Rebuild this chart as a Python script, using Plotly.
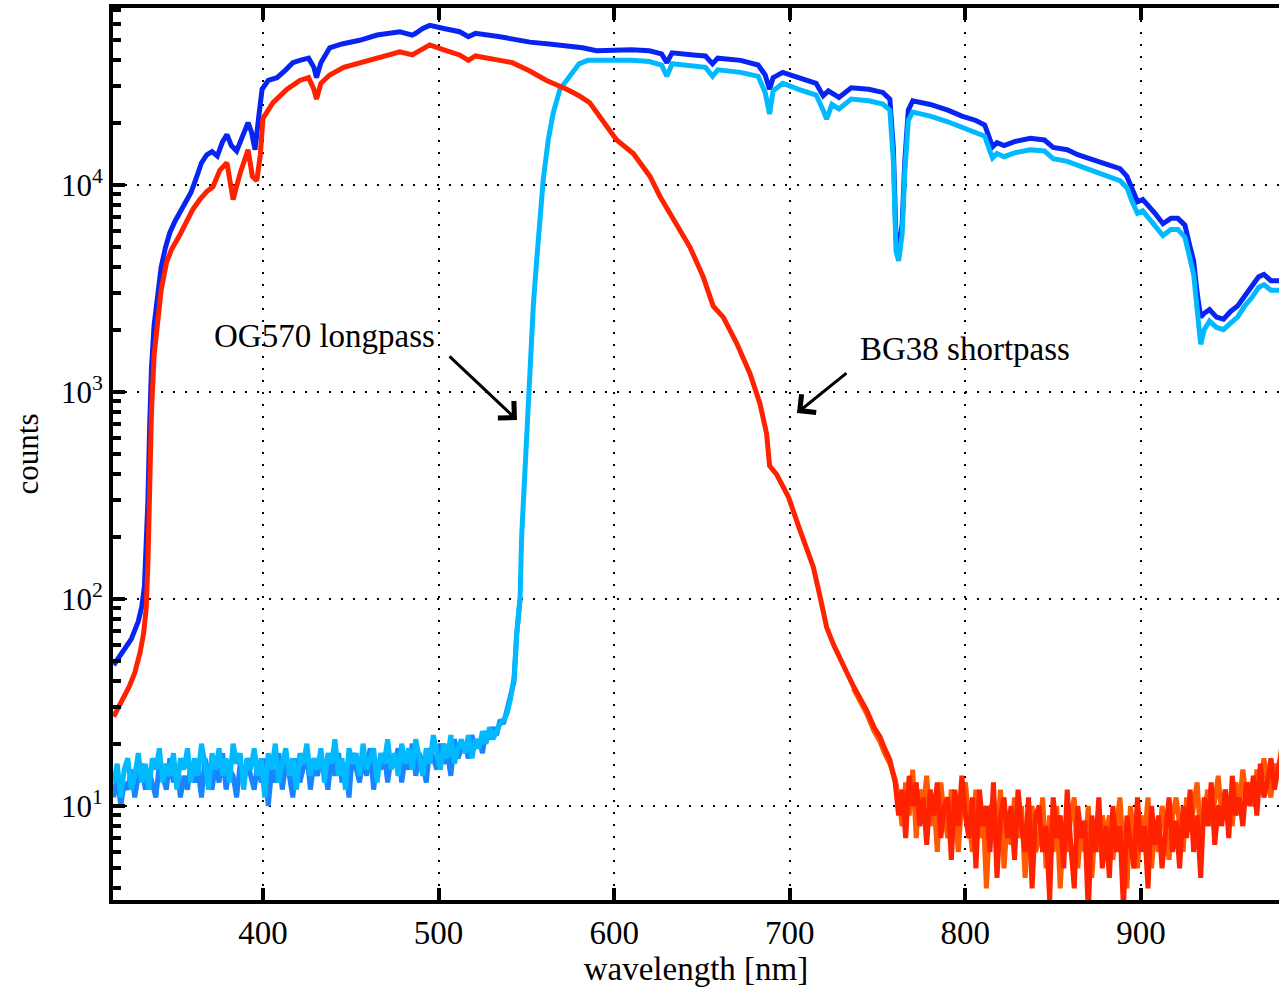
import plotly.graph_objects as go

# ---------------- data ----------------
# Unfiltered spectrum (dark blue)
BLUE_WL = [315, 320, 325, 329, 331, 332.5, 333.5, 334.5, 335.5, 336.5, 338, 340, 342, 344.5, 347, 350, 353, 356, 359,
           362, 365, 368, 371, 374, 377, 379.5, 382, 385, 388, 391.5, 393.5, 395.5, 397.5, 399.5, 403, 408, 413, 417,
           421, 426, 429, 430.5, 433, 438, 445, 455, 465, 478, 485, 487, 491, 495, 503, 512, 517, 521, 535, 545, 552,
           563, 575, 582, 590, 600, 610, 620, 627, 630, 633, 645, 652, 656, 659, 672, 682, 686, 688.5, 690.5, 696,
           705, 715, 719, 722, 728, 735, 745, 753, 757, 759, 760.5, 762, 764, 765.5, 767.5, 770, 780, 790, 798, 806,
           811, 813.5, 815.5, 818, 822, 828, 837, 845, 850, 858, 864, 872, 880, 888, 892, 895, 898, 901, 904, 908,
           912.5, 917, 921, 925, 928, 930, 932, 934, 936, 939, 943, 947, 951, 955, 959, 963, 967, 970, 974, 979]
BLUE_CT = [48, 55, 64, 78, 92, 115, 170, 300, 700, 1300, 2100, 3000, 4000, 5000, 5900, 6700, 7400, 8200, 9200,
           10800, 12800, 14000, 14500, 13800, 16200, 17500, 15500, 14600, 17000, 20000, 18000, 14800, 21000, 29000,
           32000, 33000, 36000, 39000, 40000, 41000, 37000, 33000, 39000, 46000, 48000, 50000, 53000, 55000, 53000,
           54000, 57000, 59000, 57000, 55000, 52000, 54000, 52000, 50000, 49000, 48000, 47000, 46000, 44500, 45000,
           45000, 44500, 43000, 39000, 43500, 42500, 42000, 38500, 41000, 40000, 38000, 34000, 29000, 33000, 35000,
           33000, 31000, 27000, 28500, 26500, 29500, 29000, 28000, 26000, 15000, 5500, 4800, 6500, 13000, 23000,
           25500, 24500, 23000, 21500, 20500, 19500, 17000, 15300, 16000, 15500, 16200, 16800, 16500, 15200, 14800,
           14000, 13300, 12600, 12000, 11000, 9500, 8300, 8500, 8000, 7300, 6500, 6900, 6900, 6400, 5000, 4300, 3000,
           2300, 2400, 2500, 2300, 2250, 2450, 2600, 2900, 3200, 3600, 3700, 3450, 3450]

# OG570 longpass: dark-current noise part (two exposures) on a 2 nm grid
OG_NOISE_WL = list(range(315, 545, 2))
OG_NOISE_A = [13, 16, 11, 15, 17, 12, 14, 18, 13, 16, 12, 17, 15, 19, 13, 16, 14, 18, 12, 17,
              15, 19, 13, 17, 14, 20, 16, 12, 18, 15, 19, 14, 17, 13, 20, 16, 18, 12, 17, 15,
              19, 14, 17, 11, 18, 15, 20, 13, 16, 19, 14, 17, 12, 18, 16, 20, 14, 17, 15, 19,
              13, 18, 16, 21, 14, 17, 12, 19, 16, 18, 14, 20, 15, 17, 19, 13, 18, 16, 21, 15,
              18, 14, 20, 16, 19, 15, 21, 17, 14, 19, 16, 22, 18, 15, 20, 17, 22, 16, 19, 21,
              18, 22, 17, 21, 19, 23, 20, 24, 21, 23, 25, 26, 28, 33, 42]
OG_NOISE_B = [11, 14, 10, 13, 12, 15, 11, 14, 16, 12, 15, 13, 11, 16, 14, 12, 17, 13, 15, 11,
              14, 12, 16, 13, 15, 11, 17, 14, 12, 16, 13, 18, 12, 15, 14, 11, 16, 13, 17, 14,
              12, 16, 13, 17, 10, 15, 13, 18, 12, 16, 14, 11, 17, 13, 15, 18, 12, 16, 14, 17,
              15, 12, 17, 14, 18, 13, 16, 11, 18, 15, 13, 17, 14, 19, 12, 16, 15, 18, 13, 17,
              16, 19, 13, 17, 15, 20, 14, 18, 16, 13, 19, 17, 15, 20, 16, 18, 14, 21, 17, 19,
              20, 17, 22, 19, 21, 18, 23, 21, 24, 22, 26, 25, 29, 33, 40]
# OG570 longpass: transmitted part
OG_WL = [544.5, 546.4, 547.3, 549.2, 551.1, 552, 554, 555.9, 557.7, 559.6, 562.5, 565.3, 569.1, 574.8, 580, 585, 592,
         600, 610, 620, 627, 630, 633, 645, 652, 656, 659, 672, 682, 686, 688.5, 690.5, 696, 705, 715, 719, 721,
         724, 728, 735, 745, 753, 757, 759, 760.5, 762, 764, 765.5, 767.5, 770, 780, 790, 798, 806, 811, 813.5,
         815.5, 818, 822, 828, 837, 845, 850, 858, 864, 872, 880, 888, 892, 895, 898, 901, 904, 908, 912.5, 917,
         921, 925, 928, 930, 932, 934, 936, 939, 943, 947, 951, 955, 959, 963, 967, 970, 974, 979]
OG_CT = [68, 100, 200, 450, 850, 1450, 2650, 4350, 6800, 10600, 16600, 22300, 29000, 34000, 38500, 40000, 39800,
         40000, 40000, 39500, 38000, 33500, 38500, 37500, 37000, 33500, 36000, 35000, 33500, 28000, 22000, 28500,
         31000, 29000, 27200, 23000, 20800, 24500, 23300, 26000, 25500, 24600, 23000, 13000, 4800, 4300, 5800,
         11500, 20500, 22500, 21500, 20200, 19000, 18000, 17200, 15000, 13500, 14200, 13700, 14300, 14800, 14600,
         13400, 13000, 12400, 11700, 11100, 10500, 9700, 8300, 7300, 7500, 7000, 6400, 5700, 6100, 6100, 5600,
         4400, 3700, 2500, 1700, 2000, 2200, 2050, 2000, 2150, 2300, 2600, 2850, 3200, 3300, 3100, 3100]

# BG38 shortpass: transmitted part
BG_WL = [315, 318, 321, 324, 327, 330, 332, 333.5, 334.5, 335.5, 336.5, 338, 340, 342, 345, 348, 352, 356, 360, 364,
         368, 371.5, 375.5, 379.5, 383, 387, 391.5, 394, 396.5, 398.5, 400, 405.7, 413.7, 421, 426, 429, 430.5, 433,
         438, 446, 455, 466, 478, 485, 487, 491, 495, 503, 512, 517, 521, 535, 542, 552, 561.5, 573, 580, 586,
         593.7, 601.4, 610.9, 620.4, 626.1, 635.6, 643.2, 650.7, 656.4, 662.1, 669.8, 677.3, 683, 686.8, 688.5,
         692.5, 699.2, 705.8, 713.4, 717.2, 721, 725, 728.6, 732, 736.2, 740, 743.8, 748, 751.4, 754, 757, 760]
BG_CT = [27, 30, 34, 38, 44, 55, 68, 90, 150, 380, 800, 1500, 2300, 3100, 4200, 4900, 5600, 6600, 7600, 8500,
         9300, 9800, 11800, 12800, 8500, 11400, 14800, 11000, 10500, 14000, 21000, 25000, 29000, 32000, 33000,
         29000, 26000, 31000, 34000, 37000, 39000, 41500, 44000, 42500, 43500, 46000, 47500, 45000, 42500, 40000,
         42000, 40000, 39000, 35500, 32000, 29000, 27000, 25000, 20500, 16500, 14200, 11000, 8800, 6500, 5000,
         3600, 2600, 2300, 1720, 1230, 880, 630, 440, 400, 312, 215, 143, 103, 73, 60, 51, 45, 38, 33, 29, 24,
         21.6, 19, 16.7, 13]
BG_TAIL_WL = [736.2, 740, 743.8, 748, 751.4, 754, 757, 760]
BG_TAIL_CT = [37, 32, 28, 23, 20.5, 18, 16, 13.5]
# BG38 shortpass: blocked (noise) part, two exposures on a 2 nm grid
BG_NOISE_WL = list(range(762, 981, 2))
BG_NOISE_A = [9, 12, 7, 14, 10, 13, 8, 11, 6.5, 12, 9, 13, 7, 10, 11, 5.5, 12, 8, 14, 9,
              7, 11, 5, 12, 8, 10, 6, 13, 4.5, 9, 11, 7, 10, 5.5, 12, 8, 6, 11, 4, 9,
              10, 6, 8, 3.5, 11, 7, 9, 5, 12, 6.5, 4, 10, 7, 8.5, 3, 9, 6, 11, 5, 8,
              4.5, 10, 6, 8, 3.2, 9, 7, 5, 11, 6, 8, 4, 10, 6.5, 9, 5, 7.5, 11, 6, 8.5,
              5, 10, 7, 12, 6, 9, 4.5, 11, 8, 13, 6.5, 10, 8, 12, 7, 14, 9, 11, 8, 13,
              10, 14, 9, 16, 11, 13, 17, 12, 15, 18]
BG_NOISE_B = [11, 8, 13, 9, 15, 7, 12, 10, 14, 8, 11, 6, 13, 9, 7, 12, 10, 6, 11, 13,
              9, 6, 12, 7, 10, 4, 9, 11, 7, 12, 5, 9, 6.5, 11, 7, 10, 4.5, 8, 10, 6,
              7, 11, 5, 9, 6, 10, 4, 8, 6, 9, 11, 5, 8, 6, 10, 4.5, 8, 6, 9, 7,
              9, 5.5, 8, 11, 6, 4, 10, 7, 5, 9, 7, 11, 5, 8, 6, 10, 8, 5.5, 9, 11,
              8, 6, 11, 7.5, 10, 13, 7, 9, 12, 8, 11, 14, 9, 12, 10, 8, 13, 10, 15, 11,
              13, 10, 15, 12, 17, 13, 11, 16, 14, 19]

X_TICKS = [400, 500, 600, 700, 800, 900]
Y_TICKS = [10, 100, 1000, 10000]
Y_TICKTEXT = ["10<sup>1</sup>", "10<sup>2</sup>", "10<sup>3</sup>", "10<sup>4</sup>"]
Y_MINOR = [m * 10 ** e for e in range(0, 5) for m in range(2, 10)]

# ---------------- styles ----------------
FONT = "Liberation Serif"
C_BLUE = "#0824f2"
C_CYAN = "#00b9ff"
C_MBLUE = "#1a84ff"
C_RED = "#ff2200"
C_ORANGE = "#ff5a00"
LW = 5

fig = go.Figure()
fig.add_trace(go.Scatter(x=BLUE_WL, y=BLUE_CT, mode="lines", line=dict(color=C_BLUE, width=LW)))
fig.add_trace(go.Scatter(x=OG_NOISE_WL + OG_WL[:2], y=OG_NOISE_B + OG_CT[:2], mode="lines",
                         line=dict(color=C_MBLUE, width=LW)))
fig.add_trace(go.Scatter(x=OG_NOISE_WL + OG_WL, y=OG_NOISE_A + OG_CT, mode="lines",
                         line=dict(color=C_CYAN, width=LW)))
fig.add_trace(go.Scatter(x=BG_TAIL_WL + BG_NOISE_WL, y=BG_TAIL_CT + BG_NOISE_B, mode="lines",
                         line=dict(color=C_ORANGE, width=LW)))
fig.add_trace(go.Scatter(x=BG_WL + BG_NOISE_WL, y=BG_CT + BG_NOISE_A, mode="lines",
                         line=dict(color=C_RED, width=LW)))

grid = dict(showgrid=True, gridcolor="black", gridwidth=2, griddash="2px,10px")

fig.update_xaxes(range=[314.6, 978.6], tickvals=X_TICKS, ticks="inside", ticklen=12, tickwidth=4,
                 tickcolor="black", showline=True, linecolor="black", linewidth=4, mirror="ticks",
                 zeroline=False, tickfont=dict(family=FONT, size=33, color="black"),
                 title=dict(text="wavelength [nm]", font=dict(family=FONT, size=33, color="black"), standoff=8),
                 **grid)
fig.update_yaxes(type="log", range=[0.546, 4.855], tickvals=Y_TICKS, ticktext=Y_TICKTEXT, ticks="inside",
                 ticklen=12, tickwidth=4, tickcolor="black", showline=True, linecolor="black", linewidth=4,
                 mirror=False, zeroline=False, tickfont=dict(family=FONT, size=31, color="black"),
                 minor=dict(tickvals=Y_MINOR, ticks="inside", ticklen=8, tickwidth=4, tickcolor="black",
                            showgrid=False),
                 title=dict(text="counts", font=dict(family=FONT, size=31, color="black"), standoff=14),
                 **grid)

ANN_FONT = dict(family=FONT, size=33, color="black")
fig.add_annotation(text="OG570 longpass", xref="paper", yref="paper", x=0.1818, y=0.6323,
                   showarrow=False, font=ANN_FONT, xanchor="center", yanchor="middle")
fig.add_annotation(text="BG38 shortpass", xref="paper", yref="paper", x=0.7307, y=0.6177,
                   showarrow=False, font=ANN_FONT, xanchor="center", yanchor="middle")
fig.add_annotation(text="", xref="paper", yref="paper", x=0.3465, y=0.5381, ax=-69, ay=-65,
                   showarrow=True, arrowhead=4, arrowsize=1.5, arrowwidth=3, arrowcolor="black")
fig.add_annotation(text="", xref="paper", yref="paper", x=0.5866, y=0.5460, ax=51, ay=-41,
                   showarrow=True, arrowhead=4, arrowsize=1.5, arrowwidth=3, arrowcolor="black")

fig.update_layout(width=1279, height=993, margin=dict(l=113, r=0, t=8, b=93, autoexpand=False),
                  paper_bgcolor="white", plot_bgcolor="white", showlegend=False,
                  font=dict(family=FONT, color="black"))

fig.write_html("out.html")
